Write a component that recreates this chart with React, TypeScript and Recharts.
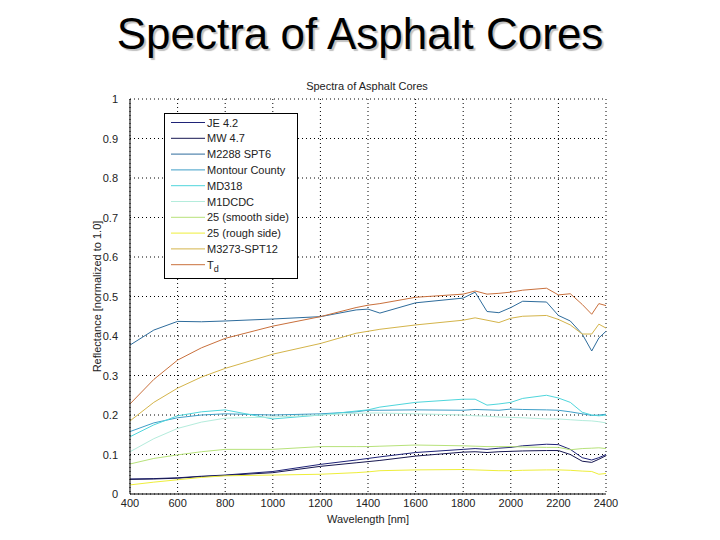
import { LineChart, Line, XAxis, YAxis, CartesianGrid } from "recharts";

const wavelengths = [
  400, 500, 600, 700, 800, 1000, 1200, 1350, 1400, 1450, 1600, 1800, 1850,
  1900, 1950, 2000, 2050, 2150, 2200, 2250, 2300, 2340, 2370, 2400,
];

const je42 = [
  0.038, 0.039, 0.041, 0.045, 0.048, 0.057, 0.075, 0.086, 0.09, 0.094, 0.105,
  0.113, 0.115, 0.113, 0.116, 0.118, 0.122, 0.126, 0.125, 0.113, 0.092, 0.086,
  0.092, 0.1,
];
const mw47 = [
  0.037, 0.038, 0.04, 0.044, 0.047, 0.054, 0.07, 0.079, 0.082, 0.085, 0.096,
  0.106, 0.107, 0.105, 0.107, 0.108, 0.109, 0.11, 0.11, 0.1, 0.083, 0.08,
  0.088, 0.097,
];
const m2288 = [
  0.377, 0.415, 0.437, 0.436, 0.438, 0.443, 0.449, 0.466, 0.468, 0.458, 0.484,
  0.496, 0.511, 0.462, 0.459, 0.472, 0.488, 0.486, 0.452, 0.438, 0.405, 0.362,
  0.395, 0.412,
];
const montour = [
  0.158, 0.18, 0.193, 0.2, 0.203, 0.2, 0.203, 0.208, 0.212, 0.212, 0.213,
  0.212, 0.214, 0.213, 0.212, 0.215, 0.214, 0.213, 0.212, 0.208, 0.203, 0.199,
  0.2, 0.202,
];
const md318 = [
  0.145, 0.175, 0.198, 0.208, 0.213, 0.19, 0.2, 0.21, 0.213, 0.22, 0.232,
  0.24, 0.24, 0.225, 0.228, 0.232, 0.242, 0.25, 0.243, 0.232, 0.207, 0.2,
  0.198, 0.2,
];
const m1dcdc = [
  0.107, 0.14, 0.166, 0.182, 0.192, 0.195, 0.2, 0.204, 0.205, 0.205, 0.203,
  0.2, 0.198, 0.197, 0.195, 0.194, 0.193, 0.19, 0.19, 0.188, 0.186, 0.185,
  0.183, 0.18,
];
const smooth25 = [
  0.076, 0.09, 0.099, 0.107, 0.113, 0.113, 0.12, 0.12, 0.12, 0.121, 0.124,
  0.122, 0.121, 0.12, 0.12, 0.12, 0.119, 0.118, 0.118, 0.112, 0.115, 0.116,
  0.117, 0.115,
];
const rough25 = [
  0.023, 0.03, 0.036, 0.042, 0.046, 0.048, 0.05, 0.054, 0.056, 0.059, 0.061,
  0.062, 0.061, 0.06, 0.059, 0.059, 0.06, 0.061, 0.061, 0.06, 0.058, 0.057,
  0.05, 0.052,
];
const m3273 = [
  0.185, 0.232, 0.268, 0.296, 0.318, 0.354, 0.381, 0.407, 0.412, 0.417, 0.428,
  0.44, 0.446, 0.44, 0.434, 0.445, 0.45, 0.452, 0.442, 0.428, 0.405, 0.405,
  0.43, 0.42,
];
const td = [
  0.228, 0.29, 0.339, 0.37, 0.394, 0.425, 0.449, 0.472, 0.478, 0.482, 0.498,
  0.506, 0.514, 0.506, 0.508, 0.511, 0.516, 0.521, 0.504, 0.507, 0.48, 0.455,
  0.482, 0.477,
];

const xTicks = [400, 600, 800, 1000, 1200, 1400, 1600, 1800, 2000, 2200, 2400];
const yTicks = [0, 0.1, 0.2, 0.3, 0.4, 0.5, 0.6, 0.7, 0.8, 0.9, 1];
const yTickLabels = ["0", "0.1", "0.2", "0.3", "0.4", "0.5", "0.6", "0.7", "0.8", "0.9", "1"];

const series = [
  { key: "je42", name: "JE 4.2", color: "#1f2377", values: je42 },
  { key: "mw47", name: "MW 4.7", color: "#161650", values: mw47 },
  { key: "m2288", name: "M2288 SPT6", color: "#2e6c9c", values: m2288 },
  { key: "montour", name: "Montour County", color: "#3f9fc8", values: montour },
  { key: "md318", name: "MD318", color: "#4fd6dc", values: md318 },
  { key: "m1dcdc", name: "M1DCDC", color: "#b4ecdc", values: m1dcdc },
  { key: "smooth25", name: "25 (smooth side)", color: "#b7e27a", values: smooth25 },
  { key: "rough25", name: "25 (rough side)", color: "#eeee3a", values: rough25 },
  { key: "m3273", name: "M3273-SPT12", color: "#d4b44a", values: m3273 },
  { key: "td", name: "Td", color: "#c9703c", values: td },
];

const data = wavelengths.map((w, i) => {
  const row: Record<string, number> = { w };
  series.forEach((s) => {
    row[s.key] = s.values[i];
  });
  return row;
});

const font = "'Liberation Sans', Arial, sans-serif";

const YTick = (props: any) => {
  const { x, y, payload } = props;
  const idx = yTicks.indexOf(payload.value);
  return (
    <text x={x - 4} y={y + 4} textAnchor="end" fontSize={11} fill="#222" fontFamily={font}>
      {yTickLabels[idx] ?? payload.value}
    </text>
  );
};

const XTick = (props: any) => {
  const { x, y, payload } = props;
  return (
    <text x={x} y={y + 5} textAnchor="middle" fontSize={11} fill="#222" fontFamily={font}>
      {payload.value}
    </text>
  );
};

const LegendBox = () => (
  <svg
    width={134}
    height={166}
    style={{ position: "absolute", left: 164, top: 113 }}
  >
    <rect x={0.5} y={0.5} width={133} height={165} fill="#fff" stroke="#000" />
    {series.map((s, i) => {
      const y = 9.5 + i * 15.8;
      return (
        <g key={s.key}>
          <line x1={7} x2={41} y1={y} y2={y} stroke={s.color} strokeWidth={1} />
          <text x={43} y={y + 4} fontSize={11} fill="#222" fontFamily={font}>
            {s.key === "td" ? (
              <>
                T<tspan dy={3} fontSize={9}>d</tspan>
              </>
            ) : (
              s.name
            )}
          </text>
        </g>
      );
    })}
  </svg>
);

export default function App() {
  return (
    <div style={{ position: "absolute", left: 0, top: 0, width: 720, height: 540, background: "#fff" }}>
      <div
        style={{
          position: "absolute",
          left: 0,
          top: 9,
          width: 720,
          textAlign: "center",
          fontFamily: font,
          fontSize: 44,
          color: "#000",
          textShadow: "2px 2px 1px #c0c0c0",
        }}
      >
        Spectra of Asphalt Cores
      </div>
      <div
        style={{
          position: "absolute",
          left: 0,
          top: 80,
          width: 734,
          textAlign: "center",
          fontFamily: font,
          fontSize: 11,
          color: "#222",
        }}
      >
        Spectra of Asphalt Cores
      </div>
      <div style={{ position: "absolute", left: 0, top: 0 }}>
        <LineChart
          width={720}
          height={540}
          data={data}
          margin={{ top: 99, right: 114, bottom: 16, left: 100 }}
        >
          <CartesianGrid
            stroke="#000"
            strokeDasharray="1 3"
            horizontalValues={yTicks}
            verticalValues={xTicks}
          />
          <XAxis
            dataKey="w"
            type="number"
            domain={[400, 2400]}
            ticks={xTicks}
            tick={<XTick />}
            tickLine={false}
            axisLine={{ stroke: "#000" }}
            height={30}
            label={{
              value: "Wavelength [nm]",
              position: "insideBottom",
              offset: 1,
              fontSize: 11,
              fill: "#222",
              fontFamily: font,
            }}
          />
          <YAxis
            type="number"
            domain={[0, 1]}
            ticks={yTicks}
            tick={<YTick />}
            tickLine={false}
            axisLine={{ stroke: "#000" }}
            width={30}
            label={{
              value: "Reflectance [normalized to 1.0]",
              angle: -90,
              position: "insideLeft",
              offset: -3,
              fontSize: 11,
              fill: "#222",
              fontFamily: font,
              style: { textAnchor: "middle" },
            }}
          />
          {series.map((s) => (
            <Line
              key={s.key}
              dataKey={s.key}
              name={s.name}
              stroke={s.color}
              strokeWidth={1}
              dot={false}
              type="linear"
              isAnimationActive={false}
            />
          ))}
        </LineChart>
      </div>
      <LegendBox />
    </div>
  );
}
